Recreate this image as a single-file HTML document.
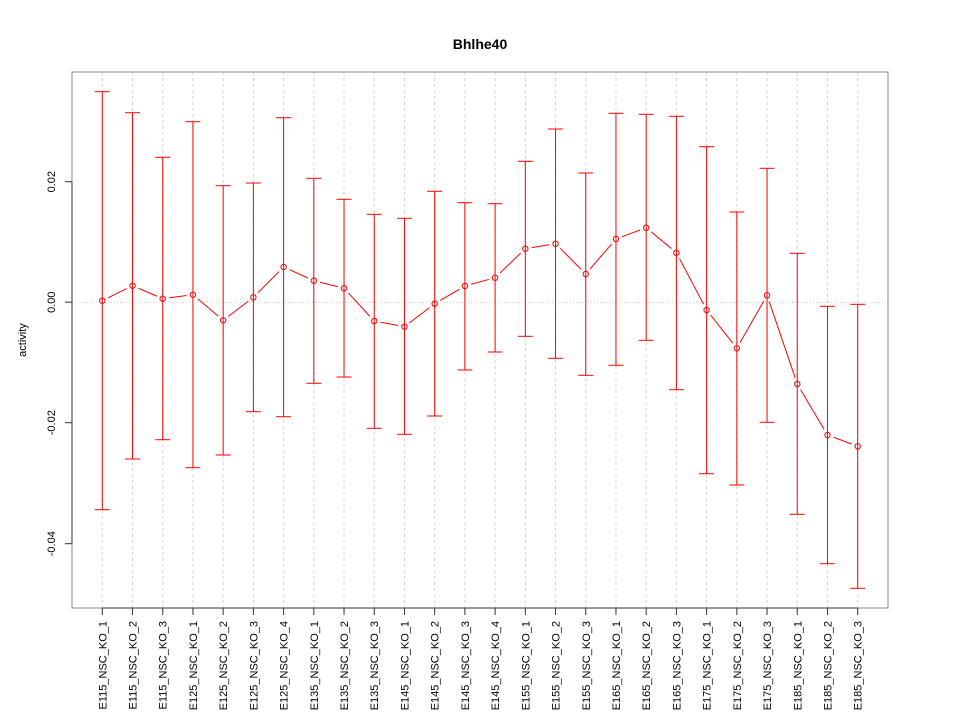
<!DOCTYPE html>
<html><head><meta charset="utf-8"><style>
html,body{margin:0;padding:0;background:#fff;}
svg{display:block;}
text{font-family:"Liberation Sans",Arial,sans-serif;fill:#000;}
</style></head><body>
<svg width="960" height="720" viewBox="0 0 960 720" xmlns="http://www.w3.org/2000/svg">
<rect width="960" height="720" fill="#fff"/>
<text x="480" y="49" font-size="14" font-weight="bold" text-anchor="middle">Bhlhe40</text>
<g id="grid" stroke="#d3d3d3" stroke-width="1" stroke-dasharray="3,3"></g>
<line x1="72" y1="302.2" x2="888" y2="302.2" stroke="#c8c8c8" stroke-width="1" stroke-dasharray="1,2"/>
<g id="series"></g>
<rect x="72" y="72" width="816" height="536" fill="none" stroke="#888" stroke-width="1"/>
<line x1="72" y1="181.7" x2="72" y2="543.7" stroke="#333" stroke-width="1"/>
<line x1="102.3" y1="608" x2="857.7" y2="608" stroke="#333" stroke-width="1"/>
<g stroke="#333" stroke-width="1">
<line x1="65" y1="181.7" x2="72" y2="181.7"/>
<line x1="65" y1="302.2" x2="72" y2="302.2"/>
<line x1="65" y1="422.7" x2="72" y2="422.7"/>
<line x1="65" y1="543.7" x2="72" y2="543.7"/>
</g>
<g font-size="11" text-anchor="middle">
<text transform="translate(55,181.7) rotate(-90)">0.02</text>
<text transform="translate(55,302.2) rotate(-90)">0.00</text>
<text transform="translate(55,422.7) rotate(-90)">-0.02</text>
<text transform="translate(55,543.7) rotate(-90)">-0.04</text>
</g>
<text transform="translate(26,340) rotate(-90)" font-size="11" text-anchor="middle">activity</text>
<g id="xt" stroke="#333" stroke-width="1"></g>
<g id="xl" font-size="11" text-anchor="end"></g>
</svg>
<script>
var labels=["E115_NSC_KO_1","E115_NSC_KO_2","E115_NSC_KO_3","E125_NSC_KO_1","E125_NSC_KO_2","E125_NSC_KO_3","E125_NSC_KO_4","E135_NSC_KO_1","E135_NSC_KO_2","E135_NSC_KO_3","E145_NSC_KO_1","E145_NSC_KO_2","E145_NSC_KO_3","E145_NSC_KO_4","E155_NSC_KO_1","E155_NSC_KO_2","E155_NSC_KO_3","E165_NSC_KO_1","E165_NSC_KO_2","E165_NSC_KO_3","E175_NSC_KO_1","E175_NSC_KO_2","E175_NSC_KO_3","E185_NSC_KO_1","E185_NSC_KO_2","E185_NSC_KO_3"];
var d=[[300.7,91.7,509.7],[285.7,112.7,459],[298.7,157.3,439.7],[294.7,121.7,467.7],[320.3,185.7,455],[297.3,183,411.7],[267,117.7,416.7],[280.7,178.3,383.3],[288.3,199.3,377],[321,214.3,428.3],[326.7,218.3,434.3],[303.7,191.3,416],[286,202.7,370],[277.7,203.7,352],[248.7,161.3,336.3],[243.7,129,358.3],[274,173,375.3],[239,113.3,365.3],[227.7,114.3,340.3],[252.7,116.3,389.7],[310,146.7,473.7],[348.3,212,485],[295.3,168.3,422.3],[384,253.3,514.3],[435,306.3,563.7],[446.3,304.3,588.3]];
var NS="http://www.w3.org/2000/svg";
function el(p,n,a,t){var e=document.createElementNS(NS,n);for(var k in a)e.setAttribute(k,a[k]);if(t)e.textContent=t;p.appendChild(e);return e;}
var grid=document.getElementById("grid"),ser=document.getElementById("series"),xt=document.getElementById("xt"),xl=document.getElementById("xl");
var xs=[];for(var i=0;i<26;i++)xs.push(102.3+i*30.216);
for(var i=0;i<26;i++){
 el(grid,"line",{x1:xs[i],y1:72,x2:xs[i],y2:608});
 el(xt,"line",{x1:xs[i],y1:608,x2:xs[i],y2:615});
 el(xl,"text",{transform:"translate("+(xs[i]+4)+",621) rotate(-90)"},labels[i]);
}
var r=2.7,g=6.5;
for(var i=0;i<25;i++){
 var x1=xs[i],y1=d[i][0],x2=xs[i+1],y2=d[i+1][0];
 var dx=x2-x1,dy=y2-y1,L=Math.sqrt(dx*dx+dy*dy);
 if(L>2*g+1){var ux=dx/L,uy=dy/L;
 el(ser,"line",{x1:x1+ux*g,y1:y1+uy*g,x2:x2-ux*g,y2:y2-uy*g,stroke:"#ff0000","stroke-width":1});}
}
for(var i=0;i<26;i++){
 var x=xs[i];
 el(ser,"line",{x1:x,y1:d[i][1],x2:x,y2:d[i][2],stroke:"#ff0000","stroke-width":1});
 el(ser,"line",{x1:x-7.5,y1:d[i][1],x2:x+7.5,y2:d[i][1],stroke:"#ff0000","stroke-width":1});
 el(ser,"line",{x1:x-7.5,y1:d[i][2],x2:x+7.5,y2:d[i][2],stroke:"#ff0000","stroke-width":1});
 el(ser,"circle",{cx:x,cy:d[i][0],r:r,fill:"none",stroke:"#ff0000","stroke-width":1});
}
</script>
</body></html>
